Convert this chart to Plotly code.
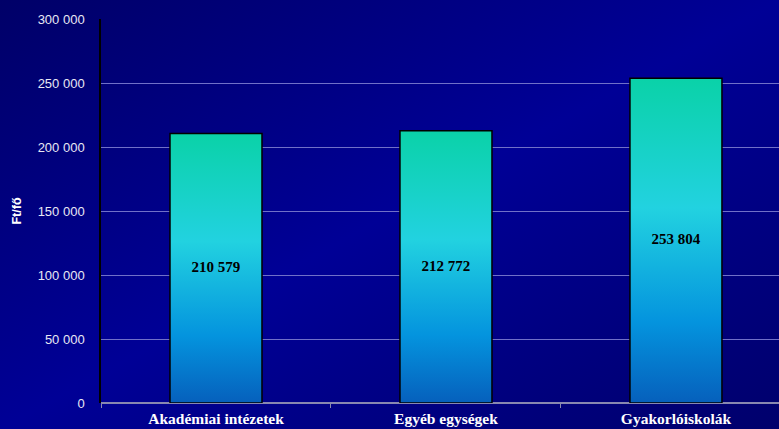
import base64
import plotly.graph_objects as go

categories = ["Akadémiai intézetek", "Egyéb egységek", "Gyakorlóiskolák"]
values = [210579, 212772, 253804]
value_labels = ["210 579", "212 772", "253 804"]
y_ticks = [0, 50000, 100000, 150000, 200000, 250000, 300000]

bar_half = 0.2
grad = [[0.0, "#0660BC"], [0.25, "#0494DE"], [0.6, "#22D2E0"], [1.0, "#0AD2A8"]]

# background diagonal gradient (dark top-left & bottom-right, brighter across the middle)
svg = (
    '<svg xmlns="http://www.w3.org/2000/svg" width="779" height="429" viewBox="0 0 779 429" preserveAspectRatio="none">'
    '<defs><linearGradient id="g" x1="0" y1="0" x2="1" y2="1">'
    '<stop offset="0" stop-color="#000068"/>'
    '<stop offset="0.5" stop-color="#000096"/>'
    '<stop offset="1" stop-color="#00006C"/>'
    '</linearGradient></defs>'
    '<rect width="779" height="429" fill="url(#g)"/></svg>'
)
bg_uri = "data:image/svg+xml;base64," + base64.b64encode(svg.encode()).decode()

fig = go.Figure()
for i, v in enumerate(values):
    xs = [i - bar_half, i + bar_half, i + bar_half, i - bar_half, i - bar_half]
    ys = [0, 0, v, v, 0]
    fig.add_trace(go.Scatter(
        x=xs, y=ys, mode="lines", fill="toself",
        fillgradient=dict(type="vertical", colorscale=grad, start=0, stop=v),
        line=dict(color="#000000", width=1.5),
        hoverinfo="skip", showlegend=False,
    ))
fig.add_trace(go.Scatter(
    x=list(range(len(values))), y=[v / 2 for v in values], mode="text",
    text=value_labels,
    textfont=dict(family="Liberation Serif", size=15, color="#000000", weight="bold"),
    showlegend=False, hoverinfo="skip",
))

fig.add_layout_image(dict(
    source=bg_uri, xref="paper", yref="paper",
    x=-101 / 678, y=1 + 19 / 384, xanchor="left", yanchor="top",
    sizex=779 / 678, sizey=429 / 384, sizing="stretch", layer="below",
))

fig.update_layout(
    width=779, height=429,
    margin=dict(l=101, r=0, t=19, b=26),
    paper_bgcolor="#000084",
    plot_bgcolor="rgba(0,0,0,0)",
    separators=", ",
    xaxis=dict(
        range=[-0.5, 2.448],
        tickvals=list(range(len(categories))),
        ticktext=categories,
        ticks="", showgrid=False, zeroline=False,
        ticklabelstandoff=4,
        tickfont=dict(family="Liberation Serif", size=15.5, color="#FFFFFF", weight="bold"),
        minor=dict(tickvals=[-0.5, 0.5, 1.5, 2.5], ticks="outside", ticklen=4,
                   tickcolor="#8888B0", showgrid=False),
        fixedrange=True,
    ),
    yaxis=dict(
        range=[0, 300000],
        tickvals=y_ticks,
        tickformat=",d",
        showgrid=True, gridcolor="#7070C8", gridwidth=1,
        zeroline=True, zerolinecolor="#8888B0", zerolinewidth=1.5,
        showline=True, linecolor="#000000", linewidth=1.5,
        ticks="", ticklen=0, ticklabelstandoff=12,
        tickfont=dict(family="Liberation Sans", size=13, color="#E8E8F4"),
        title=dict(text="Ft/fő", font=dict(family="Liberation Sans", size=12.5, color="#FFFFFF", weight="bold"), standoff=13),
        fixedrange=True,
    ),
)

fig.write_html("out.html", config={"displayModeBar": False},
               post_script="document.body.style.margin='0';document.body.style.overflow='hidden';")
